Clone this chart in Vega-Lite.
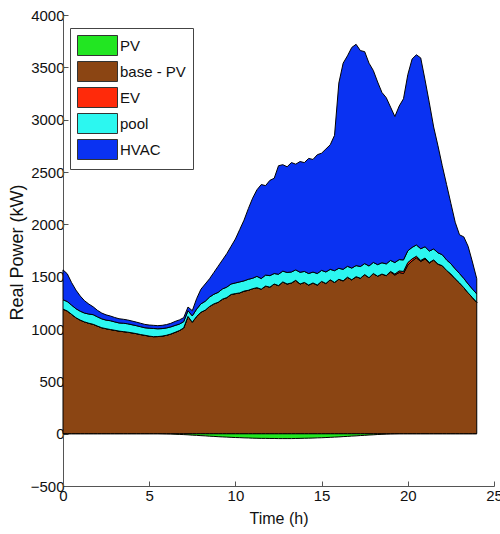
{
  "$schema": "https://vega.github.io/schema/vega-lite/v6.json",
  "autosize": {"type": "none"},
  "padding": {"left": 63, "top": 15, "right": 6, "bottom": 48},
  "width": 431,
  "height": 471,
  "background": "white",
  "datasets": {
    "ord": [
      {"k": "PV", "o": 0},
      {"k": "base - PV", "o": 1},
      {"k": "EV", "o": 2},
      {"k": "pool", "o": 3},
      {"k": "HVAC", "o": 4}
    ]
  },
  "data": {
    "values": [
      {"t": 0, "PV": 0, "base - PV": 1190, "EV": 0, "pool": 90, "HVAC": 285},
      {"t": 0.25, "PV": 0, "base - PV": 1172, "EV": 0, "pool": 90, "HVAC": 265},
      {"t": 0.5, "PV": 0, "base - PV": 1140, "EV": 0, "pool": 88, "HVAC": 215},
      {"t": 0.75, "PV": 0, "base - PV": 1108, "EV": 0, "pool": 86, "HVAC": 178},
      {"t": 1, "PV": 0, "base - PV": 1085, "EV": 0, "pool": 85, "HVAC": 145},
      {"t": 1.25, "PV": 0, "base - PV": 1068, "EV": 0, "pool": 84, "HVAC": 118},
      {"t": 1.5, "PV": 0, "base - PV": 1055, "EV": 0, "pool": 88, "HVAC": 95},
      {"t": 1.75, "PV": 0, "base - PV": 1045, "EV": 0, "pool": 92, "HVAC": 75},
      {"t": 2, "PV": 0, "base - PV": 1028, "EV": 0, "pool": 88, "HVAC": 62},
      {"t": 2.25, "PV": 0, "base - PV": 1012, "EV": 0, "pool": 85, "HVAC": 55},
      {"t": 2.5, "PV": 0, "base - PV": 1003, "EV": 0, "pool": 82, "HVAC": 50},
      {"t": 2.75, "PV": 0, "base - PV": 995, "EV": 0, "pool": 84, "HVAC": 45},
      {"t": 3, "PV": 0, "base - PV": 988, "EV": 0, "pool": 80, "HVAC": 42},
      {"t": 3.25, "PV": 0, "base - PV": 980, "EV": 0, "pool": 78, "HVAC": 40},
      {"t": 3.5, "PV": 0, "base - PV": 975, "EV": 0, "pool": 80, "HVAC": 38},
      {"t": 3.75, "PV": 0, "base - PV": 970, "EV": 0, "pool": 80, "HVAC": 36},
      {"t": 4, "PV": 0, "base - PV": 963, "EV": 0, "pool": 78, "HVAC": 35},
      {"t": 4.25, "PV": 0, "base - PV": 956, "EV": 0, "pool": 76, "HVAC": 34},
      {"t": 4.5, "PV": 0, "base - PV": 947, "EV": 0, "pool": 75, "HVAC": 33},
      {"t": 4.75, "PV": 0, "base - PV": 940, "EV": 0, "pool": 72, "HVAC": 32},
      {"t": 5, "PV": 0, "base - PV": 932, "EV": 0, "pool": 76, "HVAC": 30},
      {"t": 5.25, "PV": 0, "base - PV": 927, "EV": 0, "pool": 78, "HVAC": 30},
      {"t": 5.5, "PV": 0, "base - PV": 928, "EV": 0, "pool": 74, "HVAC": 30},
      {"t": 5.75, "PV": -1, "base - PV": 932, "EV": 0, "pool": 72, "HVAC": 31},
      {"t": 6, "PV": -2, "base - PV": 940, "EV": 0, "pool": 70, "HVAC": 32},
      {"t": 6.25, "PV": -3, "base - PV": 952, "EV": 0, "pool": 68, "HVAC": 34},
      {"t": 6.5, "PV": -5, "base - PV": 968, "EV": 0, "pool": 66, "HVAC": 38},
      {"t": 6.75, "PV": -7, "base - PV": 985, "EV": 0, "pool": 62, "HVAC": 40},
      {"t": 7, "PV": -9, "base - PV": 1010, "EV": 0, "pool": 60, "HVAC": 38},
      {"t": 7.25, "PV": -11, "base - PV": 1120, "EV": 0, "pool": 55, "HVAC": 35},
      {"t": 7.5, "PV": -14, "base - PV": 1065, "EV": 0, "pool": 60, "HVAC": 50},
      {"t": 7.75, "PV": -16, "base - PV": 1120, "EV": 0, "pool": 70, "HVAC": 100},
      {"t": 8, "PV": -19, "base - PV": 1160, "EV": 0, "pool": 80, "HVAC": 140},
      {"t": 8.25, "PV": -21, "base - PV": 1180, "EV": 0, "pool": 85, "HVAC": 165},
      {"t": 8.5, "PV": -24, "base - PV": 1215, "EV": 0, "pool": 90, "HVAC": 175},
      {"t": 8.75, "PV": -26, "base - PV": 1240, "EV": 0, "pool": 92, "HVAC": 208},
      {"t": 9, "PV": -29, "base - PV": 1255, "EV": 0, "pool": 95, "HVAC": 250},
      {"t": 9.25, "PV": -31, "base - PV": 1285, "EV": 0, "pool": 98, "HVAC": 277},
      {"t": 9.5, "PV": -33, "base - PV": 1300, "EV": 0, "pool": 100, "HVAC": 320},
      {"t": 9.75, "PV": -35, "base - PV": 1330, "EV": 0, "pool": 100, "HVAC": 360},
      {"t": 10, "PV": -37, "base - PV": 1338, "EV": 0, "pool": 102, "HVAC": 420},
      {"t": 10.25, "PV": -38, "base - PV": 1345, "EV": 0, "pool": 105, "HVAC": 500},
      {"t": 10.5, "PV": -40, "base - PV": 1362, "EV": 0, "pool": 98, "HVAC": 580},
      {"t": 10.75, "PV": -41, "base - PV": 1370, "EV": 0, "pool": 105, "HVAC": 675},
      {"t": 11, "PV": -43, "base - PV": 1385, "EV": 0, "pool": 100, "HVAC": 765},
      {"t": 11.25, "PV": -44, "base - PV": 1395, "EV": 0, "pool": 108, "HVAC": 827},
      {"t": 11.5, "PV": -45, "base - PV": 1380, "EV": 0, "pool": 102, "HVAC": 898},
      {"t": 11.75, "PV": -45, "base - PV": 1410, "EV": 0, "pool": 105, "HVAC": 855},
      {"t": 12, "PV": -46, "base - PV": 1400, "EV": 0, "pool": 110, "HVAC": 910},
      {"t": 12.25, "PV": -46, "base - PV": 1430, "EV": 0, "pool": 100, "HVAC": 910},
      {"t": 12.5, "PV": -47, "base - PV": 1415, "EV": 0, "pool": 108, "HVAC": 1037},
      {"t": 12.75, "PV": -47, "base - PV": 1450, "EV": 0, "pool": 103, "HVAC": 1017},
      {"t": 13, "PV": -47, "base - PV": 1430, "EV": 0, "pool": 110, "HVAC": 1010},
      {"t": 13.25, "PV": -47, "base - PV": 1440, "EV": 0, "pool": 105, "HVAC": 1045},
      {"t": 13.5, "PV": -46, "base - PV": 1465, "EV": 0, "pool": 100, "HVAC": 1010},
      {"t": 13.75, "PV": -45, "base - PV": 1430, "EV": 0, "pool": 112, "HVAC": 1058},
      {"t": 14, "PV": -44, "base - PV": 1445, "EV": 0, "pool": 105, "HVAC": 1040},
      {"t": 14.25, "PV": -43, "base - PV": 1420, "EV": 0, "pool": 110, "HVAC": 1100},
      {"t": 14.5, "PV": -42, "base - PV": 1440, "EV": 0, "pool": 104, "HVAC": 1076},
      {"t": 14.75, "PV": -40, "base - PV": 1420, "EV": 0, "pool": 110, "HVAC": 1135},
      {"t": 15, "PV": -39, "base - PV": 1455, "EV": 0, "pool": 105, "HVAC": 1120},
      {"t": 15.25, "PV": -37, "base - PV": 1435, "EV": 0, "pool": 110, "HVAC": 1175},
      {"t": 15.5, "PV": -35, "base - PV": 1470, "EV": 0, "pool": 100, "HVAC": 1190},
      {"t": 15.75, "PV": -33, "base - PV": 1445, "EV": 0, "pool": 112, "HVAC": 1293},
      {"t": 16, "PV": -31, "base - PV": 1475, "EV": 0, "pool": 105, "HVAC": 1770},
      {"t": 16.25, "PV": -28, "base - PV": 1460, "EV": 0, "pool": 110, "HVAC": 1970},
      {"t": 16.5, "PV": -26, "base - PV": 1495, "EV": 0, "pool": 104, "HVAC": 2011},
      {"t": 16.75, "PV": -23, "base - PV": 1470, "EV": 0, "pool": 112, "HVAC": 2108},
      {"t": 17, "PV": -21, "base - PV": 1500, "EV": 0, "pool": 106, "HVAC": 2114},
      {"t": 17.25, "PV": -18, "base - PV": 1485, "EV": 0, "pool": 112, "HVAC": 2063},
      {"t": 17.5, "PV": -16, "base - PV": 1520, "EV": 0, "pool": 105, "HVAC": 2025},
      {"t": 17.75, "PV": -13, "base - PV": 1490, "EV": 0, "pool": 112, "HVAC": 1938},
      {"t": 18, "PV": -11, "base - PV": 1530, "EV": 0, "pool": 106, "HVAC": 1834},
      {"t": 18.25, "PV": -8, "base - PV": 1505, "EV": 0, "pool": 110, "HVAC": 1745},
      {"t": 18.5, "PV": -6, "base - PV": 1525, "EV": 0, "pool": 108, "HVAC": 1627},
      {"t": 18.75, "PV": -4, "base - PV": 1510, "EV": 0, "pool": 112, "HVAC": 1588},
      {"t": 19, "PV": -2, "base - PV": 1545, "EV": 5, "pool": 105, "HVAC": 1465},
      {"t": 19.25, "PV": -1, "base - PV": 1515, "EV": 10, "pool": 110, "HVAC": 1395},
      {"t": 19.5, "PV": 0, "base - PV": 1540, "EV": 15, "pool": 108, "HVAC": 1467},
      {"t": 19.75, "PV": 0, "base - PV": 1530, "EV": 20, "pool": 110, "HVAC": 1540},
      {"t": 20, "PV": 0, "base - PV": 1610, "EV": 25, "pool": 112, "HVAC": 1683},
      {"t": 20.25, "PV": 0, "base - PV": 1650, "EV": 20, "pool": 110, "HVAC": 1800},
      {"t": 20.5, "PV": 0, "base - PV": 1680, "EV": 15, "pool": 108, "HVAC": 1817},
      {"t": 20.75, "PV": 0, "base - PV": 1645, "EV": 10, "pool": 112, "HVAC": 1823},
      {"t": 21, "PV": 0, "base - PV": 1670, "EV": 8, "pool": 108, "HVAC": 1594},
      {"t": 21.25, "PV": 0, "base - PV": 1630, "EV": 5, "pool": 110, "HVAC": 1415},
      {"t": 21.5, "PV": 0, "base - PV": 1660, "EV": 0, "pool": 105, "HVAC": 1165},
      {"t": 21.75, "PV": 0, "base - PV": 1620, "EV": 0, "pool": 108, "HVAC": 1022},
      {"t": 22, "PV": 0, "base - PV": 1605, "EV": 0, "pool": 105, "HVAC": 850},
      {"t": 22.25, "PV": 0, "base - PV": 1560, "EV": 0, "pool": 100, "HVAC": 720},
      {"t": 22.5, "PV": 0, "base - PV": 1525, "EV": 0, "pool": 98, "HVAC": 577},
      {"t": 22.75, "PV": 0, "base - PV": 1480, "EV": 0, "pool": 95, "HVAC": 445},
      {"t": 23, "PV": 0, "base - PV": 1440, "EV": 0, "pool": 90, "HVAC": 370},
      {"t": 23.25, "PV": 0, "base - PV": 1395, "EV": 0, "pool": 88, "HVAC": 397},
      {"t": 23.5, "PV": 0, "base - PV": 1345, "EV": 0, "pool": 85, "HVAC": 360},
      {"t": 23.75, "PV": 0, "base - PV": 1300, "EV": 0, "pool": 82, "HVAC": 258},
      {"t": 24, "PV": 0, "base - PV": 1255, "EV": 0, "pool": 80, "HVAC": 145}
    ]
  },
  "transform": [
    {"fold": ["PV", "base - PV", "EV", "pool", "HVAC"], "as": ["series", "kW"]},
    {"lookup": "series", "from": {"data": {"name": "ord"}, "key": "k", "fields": ["o"]}}
  ],
  "mark": {"type": "area", "stroke": "black", "strokeWidth": 1, "interpolate": "linear", "opacity": 1},
  "encoding": {
    "x": {
      "field": "t", "type": "quantitative",
      "scale": {"domain": [0, 25], "nice": false, "zero": false},
      "axis": {"values": [0, 5, 10, 15, 20, 25], "title": "Time (h)", "grid": false}
    },
    "y": {
      "field": "kW", "type": "quantitative", "stack": "zero",
      "scale": {"domain": [-500, 4000], "nice": false},
      "axis": {
        "values": [-500, 0, 500, 1000, 1500, 2000, 2500, 3000, 3500, 4000],
        "format": "d",
        "title": "Real Power (kW)",
        "grid": false,
        "titleX": -46,
        "titleY": 237,
        "titleBaseline": "middle",
        "titleAngle": -90
      }
    },
    "color": {
      "field": "series", "type": "nominal",
      "scale": {
        "domain": ["PV", "base - PV", "EV", "pool", "HVAC"],
        "range": ["#22e622", "#8b4513", "#ff2a0a", "#2cf7f0", "#0a32f2"]
      },
      "legend": {
        "title": null,
        "orient": "none",
        "legendX": 7,
        "legendY": 13,
        "direction": "vertical",
        "strokeColor": "#444",
        "fillColor": "white",
        "padding": 7,
        "symbolType": "M-1,-1H3V1H-1Z",
        "symbolSize": 400,
        "symbolStrokeColor": "#333",
        "symbolStrokeWidth": 1,
        "symbolOpacity": 1,
        "rowPadding": 1,
        "labelFont": "Liberation Sans",
        "labelFontSize": 15,
        "labelColor": "#111",
        "labelOffset": 22
      }
    },
    "order": {"field": "o", "type": "quantitative", "sort": "ascending"}
  },
  "config": {
    "view": {"stroke": null},
    "axis": {
      "domainColor": "#555",
      "tickColor": "#555",
      "tickSize": -5,
      "labelFont": "Liberation Sans",
      "labelFontSize": 15,
      "labelColor": "#111",
      "labelPadding": 4,
      "titleFont": "Liberation Sans",
      "titleFontSize": 16,
      "titleFontWeight": "normal",
      "titleColor": "#111"
    },
    "axisY": {"titleFontSize": 18},
    "axisX": {"titlePadding": 7, "labelPadding": 7, "labelFlush": false}
  }
}
